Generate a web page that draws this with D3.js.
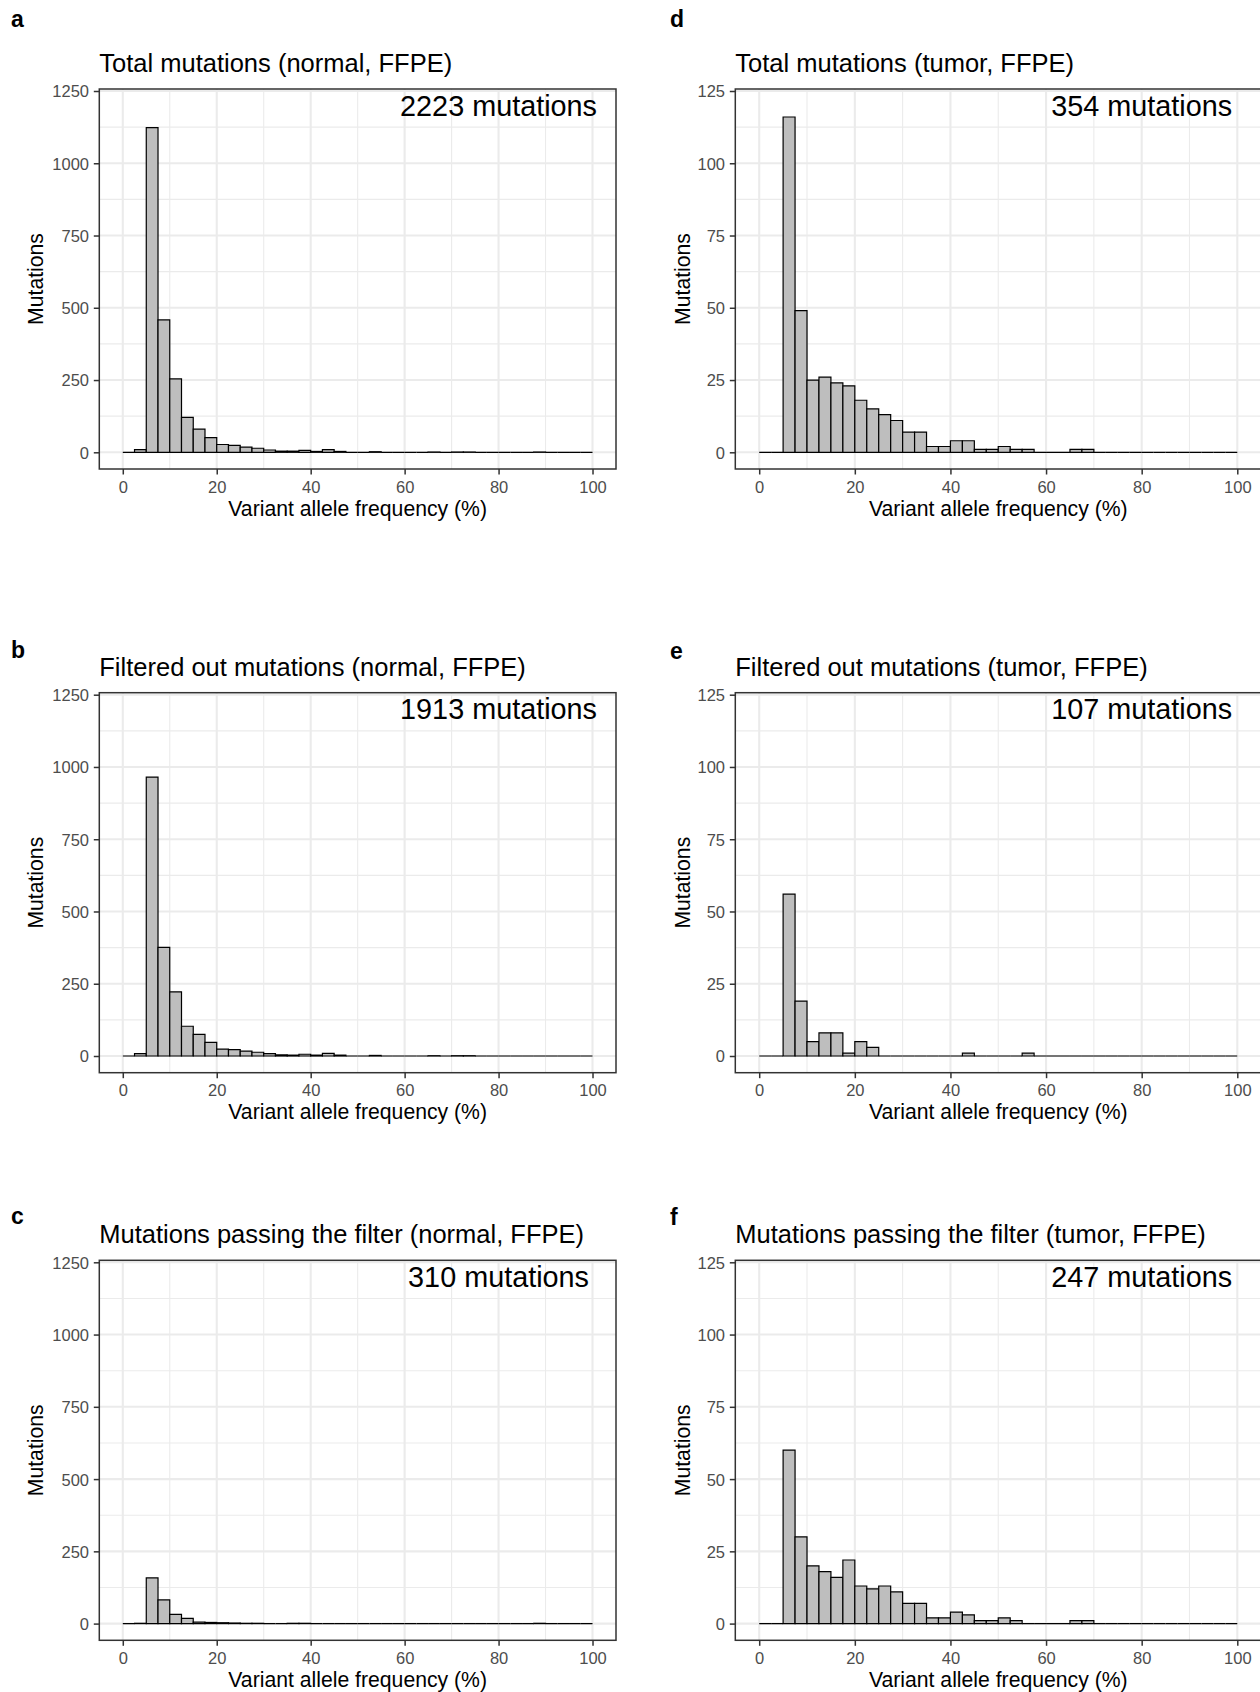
<!DOCTYPE html>
<html>
<head>
<meta charset="utf-8">
<script src="https://cdn.jsdelivr.net/npm/d3@7"></script>
<style>
  html, body { margin: 0; padding: 0; background: #ffffff; }
  svg { display: block; }
  text { font-family: "Liberation Sans", Arial, Helvetica, sans-serif; }
</style>
</head>
<body>
<svg id="chart" width="1260" height="1692"></svg>
<script>
// ---------------- DATA ----------------
// Histogram bins: variant allele frequency (%), bin width 2.5
const binStarts = [0, 2.5, 5, 7.5, 10, 12.5, 15, 17.5, 20, 22.5,
                   25, 27.5, 30, 32.5, 35, 37.5, 40, 42.5, 45, 47.5,
                   50, 52.5, 55, 57.5, 60, 62.5, 65, 67.5, 70, 72.5,
                   75, 77.5, 80, 82.5, 85, 87.5, 90, 92.5, 95, 97.5];
const binWidth = 2.5;

// a: Total mutations (normal, FFPE) — 2223
const normalTotal = [0, 9, 1123, 458, 254, 121, 80, 51, 27, 24,
                     18, 14, 8, 4, 4, 7, 3, 9, 3, 0,
                     0, 2, 0, 0, 0, 0, 1, 0, 1, 1,
                     0, 0, 0, 0, 0, 1, 0, 0, 0, 0];
// b: Filtered out mutations (normal, FFPE) — 1913
const normalFiltered = [0, 8, 965, 376, 222, 103, 75, 47, 24, 22,
                        17, 13, 8, 4, 3, 6, 3, 9, 3, 0,
                        0, 2, 0, 0, 0, 0, 1, 0, 1, 1,
                        0, 0, 0, 0, 0, 0, 0, 0, 0, 0];
// c: Mutations passing the filter (normal, FFPE) — 310
const normalPassing = [0, 1, 158, 82, 32, 18, 5, 4, 3, 2,
                       1, 1, 0, 0, 1, 1, 0, 0, 0, 0,
                       0, 0, 0, 0, 0, 0, 0, 0, 0, 0,
                       0, 0, 0, 0, 0, 1, 0, 0, 0, 0];
// d: Total mutations (tumor, FFPE) — 354
const tumorTotal = [0, 0, 116, 49, 25, 26, 24, 23, 18, 15,
                    13, 11, 7, 7, 2, 2, 4, 4, 1, 1,
                    2, 1, 1, 0, 0, 0, 1, 1, 0, 0,
                    0, 0, 0, 0, 0, 0, 0, 0, 0, 0];
// e: Filtered out mutations (tumor, FFPE) — 107
const tumorFiltered = [0, 0, 56, 19, 5, 8, 8, 1, 5, 3,
                       0, 0, 0, 0, 0, 0, 0, 1, 0, 0,
                       0, 0, 1, 0, 0, 0, 0, 0, 0, 0,
                       0, 0, 0, 0, 0, 0, 0, 0, 0, 0];
// f: Mutations passing the filter (tumor, FFPE) — 247
const tumorPassing = [0, 0, 60, 30, 20, 18, 16, 22, 13, 12,
                      13, 11, 7, 7, 2, 2, 4, 3, 1, 1,
                      2, 1, 0, 0, 0, 0, 1, 1, 0, 0,
                      0, 0, 0, 0, 0, 0, 0, 0, 0, 0];

const panelLetters = ["a", "b", "c", "d", "e", "f"];
const panelTitles = [
  "Total mutations (normal, FFPE)",
  "Filtered out mutations (normal, FFPE)",
  "Mutations passing the filter (normal, FFPE)",
  "Total mutations (tumor, FFPE)",
  "Filtered out mutations (tumor, FFPE)",
  "Mutations passing the filter (tumor, FFPE)"
];
const panelCounts = ["2223 mutations", "1913 mutations", "310 mutations",
                     "354 mutations", "107 mutations", "247 mutations"];
const panelSeries = [normalTotal, normalFiltered, normalPassing,
                     tumorTotal, tumorFiltered, tumorPassing];

const xTicks = [0, 20, 40, 60, 80, 100];
const xMinor = [10, 30, 50, 70, 90];
const yTicksNormal = [0, 250, 500, 750, 1000, 1250];
const yMinorNormal = [125, 375, 625, 875, 1125];
const yTicksTumor = [0, 25, 50, 75, 100, 125];
const yMinorTumor = [12.5, 37.5, 62.5, 87.5, 112.5];

const xTitle = "Variant allele frequency (%)";
const yTitle = "Mutations";

// ---------------- LAYOUT ----------------
const colLeft = [99.3, 735.3];
const colWidth = [516.7, 525.9];
const rowTop = [89, 692.7, 1260.3];
const panelH = 380;
const letterPos = [
  [11, 27], [11, 658], [11, 1224],
  [670, 27], [670, 659], [670, 1225]
];

const svg = d3.select("#chart");
svg.append("rect").attr("width", 1260).attr("height", 1692).attr("fill", "#ffffff");

panelSeries.forEach((series, i) => {
  const col = i < 3 ? 0 : 1;
  const row = i % 3;
  const left = colLeft[col], width = colWidth[col];
  const top = rowTop[row], bottom = top + panelH;
  const yMax = col === 0 ? 1250 : 125;
  const yTicks = col === 0 ? yTicksNormal : yTicksTumor;
  const yMinor = col === 0 ? yMinorNormal : yMinorTumor;
  const annY = col === 0 ? 1200 : 120;

  const x = d3.scaleLinear().domain([-5, 105]).range([left, left + width]);
  const y = d3.scaleLinear().domain([0, yMax]).range([top + 363.3, top + 2]);

  const g = svg.append("g");

  // panel background
  g.append("rect").attr("x", left).attr("y", top).attr("width", width).attr("height", panelH)
    .attr("fill", "#ffffff");

  // minor grid
  g.selectAll(null).data(xMinor).enter().append("line")
    .attr("x1", d => x(d)).attr("x2", d => x(d)).attr("y1", top).attr("y2", bottom)
    .attr("stroke", "#EBEBEB").attr("stroke-width", 1.1);
  g.selectAll(null).data(yMinor).enter().append("line")
    .attr("x1", left).attr("x2", left + width).attr("y1", d => y(d)).attr("y2", d => y(d))
    .attr("stroke", "#EBEBEB").attr("stroke-width", 1.1);
  // major grid
  g.selectAll(null).data(xTicks).enter().append("line")
    .attr("x1", d => x(d)).attr("x2", d => x(d)).attr("y1", top).attr("y2", bottom)
    .attr("stroke", "#EBEBEB").attr("stroke-width", 2.1);
  g.selectAll(null).data(yTicks).enter().append("line")
    .attr("x1", left).attr("x2", left + width).attr("y1", d => y(d)).attr("y2", d => y(d))
    .attr("stroke", "#EBEBEB").attr("stroke-width", 2.1);

  // bars
  g.selectAll(null).data(binStarts.map((b, k) => ({ b, v: series[k] }))).enter().append("path")
    .attr("d", d => {
      const x0 = x(d.b), x1 = x(d.b + binWidth), y0 = y(0), y1 = y(d.v);
      return `M${x0},${y0}V${y1}H${x1}V${y0}Z`;
    })
    .attr("fill", "#BEBEBE").attr("stroke", "#000000").attr("stroke-width", 1.2)
    .attr("stroke-linejoin", "miter");

  // annotation
  g.append("text").attr("x", x(80)).attr("y", y(annY) + 0.358 * 28.8)
    .attr("text-anchor", "middle").attr("font-size", 28.8).attr("fill", "#000000")
    .text(panelCounts[i]);

  // panel border
  g.append("rect").attr("x", left).attr("y", top).attr("width", width).attr("height", panelH)
    .attr("fill", "none").attr("stroke", "#333333").attr("stroke-width", 1.5);

  // axes
  const xAxis = d3.axisBottom(x).tickValues(xTicks).tickSize(5.5).tickPadding(6.3)
    .tickFormat(d3.format("d"));
  const gx = svg.append("g").attr("transform", `translate(0,${bottom})`).call(xAxis);
  gx.select(".domain").remove();
  gx.selectAll(".tick line").attr("stroke", "#333333").attr("stroke-width", 1.5);
  gx.selectAll(".tick text").attr("fill", "#4D4D4D").attr("font-size", 16.5)
    .attr("font-family", "'Liberation Sans', Arial, Helvetica, sans-serif");

  const yAxis = d3.axisLeft(y).tickValues(yTicks).tickSize(5.5).tickPadding(4.8)
    .tickFormat(d3.format("d"));
  const gy = svg.append("g").attr("transform", `translate(${left},0)`).call(yAxis);
  gy.select(".domain").remove();
  gy.selectAll(".tick line").attr("stroke", "#333333").attr("stroke-width", 1.5);
  gy.selectAll(".tick text").attr("fill", "#4D4D4D").attr("font-size", 16.5)
    .attr("dy", "0.36em")
    .attr("font-family", "'Liberation Sans', Arial, Helvetica, sans-serif");

  // axis titles
  svg.append("text").attr("x", left + width / 2).attr("y", bottom + 46.5)
    .attr("text-anchor", "middle").attr("font-size", 21.2).attr("fill", "#000000")
    .text(xTitle);
  const labelW = (col === 0 ? 37.8 : 27.5);
  const yTitleX = left - 10.3 - labelW - 15.6;
  svg.append("text")
    .attr("transform", `translate(${yTitleX + 0.36 * 21.2},${top + panelH / 2}) rotate(-90)`)
    .attr("text-anchor", "middle").attr("font-size", 21.2).attr("fill", "#000000")
    .text(yTitle);

  // title
  svg.append("text").attr("x", left).attr("y", top - 17)
    .attr("font-size", 25.5).attr("fill", "#000000")
    .text(panelTitles[i]);

  // panel letter
  svg.append("text").attr("x", letterPos[i][0]).attr("y", letterPos[i][1])
    .attr("font-size", 23).attr("font-weight", "bold").attr("fill", "#000000")
    .text(panelLetters[i]);
});
</script>
</body>
</html>
